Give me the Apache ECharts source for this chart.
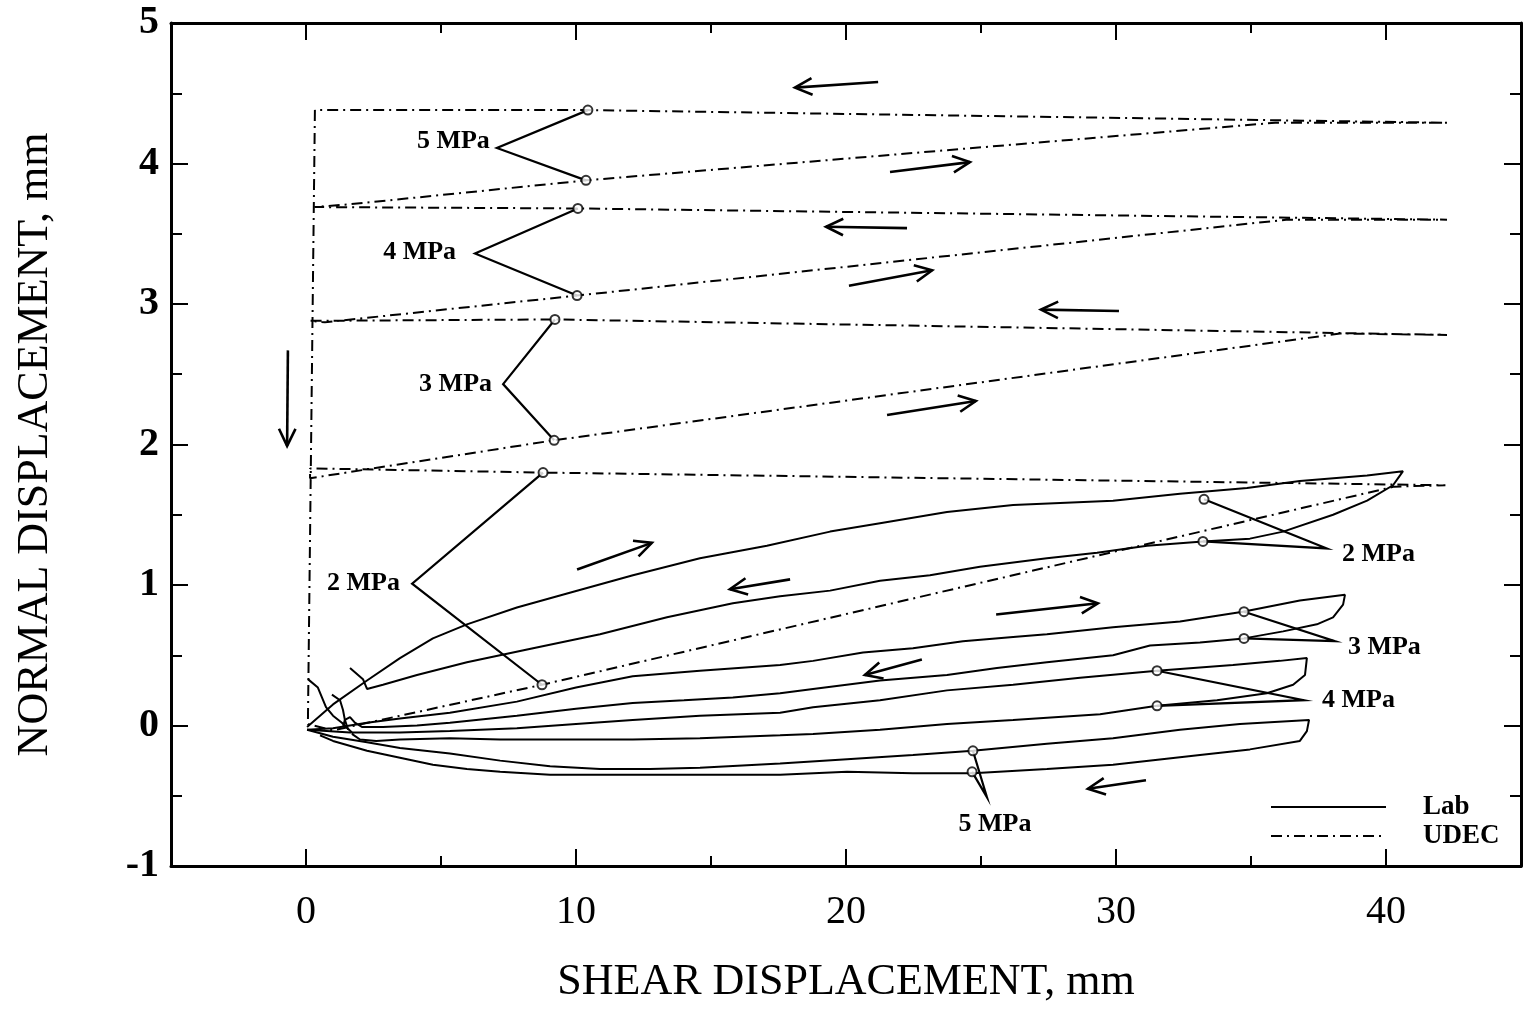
<!DOCTYPE html>
<html><head><meta charset="utf-8">
<script src="https://cdn.jsdelivr.net/npm/echarts@6/dist/echarts.min.js"></script>
<style>html,body{margin:0;padding:0;background:#fff}#c{width:1526px;height:1009px}</style>
</head><body><div id="c"></div>
<script>
// ---- tick values ----
const xTickLabels = [0, 10, 20, 30, 40];
const xMinorTicks = [5, 15, 25, 35];
const yTickLabels = [-1, 0, 1, 2, 3, 4, 5];

// ---- Lab curves (shear displacement mm, normal displacement mm) ----
const lab2MPa = [[0.04,-0.01],[1.0,0.15],[2.26,0.32],[3.48,0.48],[4.70,0.62],[5.96,0.72],[7.81,0.84],[9.67,0.94],[12.11,1.07],[14.59,1.19],[17.07,1.28],[19.41,1.38],[21.26,1.44],[23.74,1.52],[26.19,1.57],[29.89,1.60],[32.37,1.65],[34.85,1.69],[36.81,1.74],[39.30,1.78],[40.63,1.81],[40.52,1.78],[40.26,1.71],[39.30,1.60],[38.04,1.50],[36.19,1.38],[34.96,1.33],[33.22,1.31],[31.15,1.28],[29.30,1.23],[27.44,1.19],[24.96,1.13],[23.11,1.07],[21.26,1.03],[19.41,0.96],[17.56,0.92],[15.81,0.87],[13.37,0.77],[10.89,0.65],[8.41,0.55],[5.96,0.45],[4.11,0.36],[2.85,0.29],[2.26,0.26],[2.11,0.33],[1.63,0.41]];
const lab3MPa = [[0.04,-0.03],[1.0,-0.02],[2.26,0.02],[3.48,0.05],[5.33,0.09],[7.81,0.17],[10.0,0.27],[12.1,0.35],[14.59,0.39],[17.56,0.43],[18.78,0.46],[20.63,0.52],[22.48,0.55],[24.33,0.60],[26.19,0.63],[27.44,0.65],[29.89,0.70],[32.37,0.74],[34.70,0.81],[36.81,0.89],[38.48,0.93],[38.41,0.86],[38.04,0.77],[37.44,0.72],[36.19,0.67],[34.74,0.62],[33.11,0.59],[31.26,0.57],[29.89,0.50],[27.44,0.45],[25.59,0.41],[23.74,0.36],[21.26,0.32],[18.78,0.26],[17.56,0.23],[15.81,0.20],[14.0,0.18],[12.1,0.16],[10.0,0.12],[7.81,0.07],[5.33,0.02],[4.11,0.0],[2.85,-0.01],[2.07,-0.01],[1.81,0.02],[1.63,0.06],[1.44,0.04],[1.37,-0.01]];
const lab4MPa = [[0.04,-0.03],[1.63,-0.05],[3.48,-0.05],[5.33,-0.04],[7.81,-0.02],[10.0,0.01],[12.1,0.04],[14.59,0.07],[17.56,0.09],[18.78,0.13],[21.26,0.18],[23.74,0.25],[26.19,0.29],[28.67,0.34],[31.52,0.39],[34.33,0.43],[36.07,0.46],[37.07,0.48],[37.0,0.36],[36.56,0.29],[35.59,0.23],[33.74,0.18],[31.52,0.14],[29.41,0.08],[26.19,0.04],[23.74,0.01],[21.26,-0.03],[18.78,-0.06],[17.56,-0.07],[14.59,-0.09],[12.1,-0.10],[9.67,-0.10],[7.19,-0.10],[5.33,-0.09],[3.48,-0.10],[2.6,-0.11],[2.0,-0.10],[1.70,-0.06]];
const lab5MPa = [[0.04,-0.03],[1.0,-0.08],[2.26,-0.12],[3.48,-0.16],[5.33,-0.20],[7.19,-0.25],[9.04,-0.29],[10.89,-0.31],[12.74,-0.31],[14.59,-0.30],[17.56,-0.27],[20.04,-0.24],[22.48,-0.21],[24.70,-0.18],[27.44,-0.13],[29.89,-0.09],[32.37,-0.03],[34.59,0.01],[37.15,0.04],[37.07,-0.04],[36.81,-0.11],[34.96,-0.17],[33.11,-0.21],[29.89,-0.28],[27.44,-0.31],[24.70,-0.34],[22.48,-0.34],[20.04,-0.33],[17.56,-0.35],[14.59,-0.35],[12.11,-0.35],[9.04,-0.35],[7.19,-0.33],[5.96,-0.31],[4.70,-0.28],[3.48,-0.23],[2.26,-0.18],[1.0,-0.11],[0.52,-0.07]];
const labSeating1 = [[0.07,0.33],[0.44,0.27],[0.59,0.20],[0.74,0.13],[1.0,0.07],[1.33,0.02],[1.70,-0.05]];
const labSeating2 = [[0.96,0.22],[1.26,0.18],[1.37,0.11],[1.44,0.04],[1.56,-0.03]];

// ---- UDEC path ----
const udecPath = [[0.33,4.38],[0.07,0.01],[1.0,-0.035],[8.74,0.29],[40.3,1.70],[42.2,1.71],[8.78,1.80],[0.15,1.83],[0.15,1.76],[9.19,2.03],[38.3,2.79],[42.26,2.78],[9.22,2.89],[0.15,2.88],[0.7,2.87],[10.04,3.06],[36.3,3.60],[42.26,3.60],[10.07,3.68],[0.33,3.69],[1.63,3.71],[10.37,3.88],[35.9,4.29],[42.26,4.29],[10.44,4.38],[0.33,4.38]];

// ---- marked points ----
const udecMarks = [[8.78,1.80],[8.74,0.29],[9.22,2.89],[9.19,2.03],[10.07,3.68],[10.04,3.06],[10.44,4.38],[10.37,3.88]];
const labMarks = [[33.26,1.61],[33.22,1.31],[34.74,0.81],[34.74,0.62],[31.52,0.39],[31.52,0.14],[24.70,-0.18],[24.67,-0.33]];

// ---- leader lines: point A, vertex, point B ----
const leaders = [
  [10.44,4.38, 7.07,4.11, 10.37,3.88],
  [10.07,3.68, 6.26,3.36, 10.04,3.06],
  [9.22,2.89, 7.30,2.43, 9.19,2.03],
  [8.78,1.80, 3.93,1.01, 8.74,0.29],
  [33.26,1.61, 37.81,1.26, 33.22,1.31],
  [34.74,0.81, 38.11,0.60, 34.74,0.62],
  [31.52,0.39, 36.96,0.18, 31.52,0.14],
  [24.70,-0.18, 25.22,-0.51, 24.67,-0.33]
];
const annoPos = [[6.81,4.16],[5.56,3.37],[6.89,2.43],[3.48,1.01],[38.37,1.22],[38.59,0.56],[37.63,0.18],[25.52,-0.70]];
const annoText = ['5 MPa','4 MPa','3 MPa','2 MPa','2 MPa','3 MPa','4 MPa','5 MPa'];
const annoAlign = ['right','right','right','right','left','left','left','center'];

// ---- direction arrows: from (x1,y1) to (x2,y2) ----
const arrows = [
  [21.19,4.58, 18.11,4.54],
  [21.63,3.94, 24.59,4.01],
  [22.26,3.54, 19.26,3.55],
  [20.11,3.13, 23.19,3.24],
  [30.11,2.95, 27.22,2.96],
  [21.52,2.21, 24.81,2.31],
  [-0.67,2.67, -0.70,1.99],
  [10.04,1.11, 12.81,1.30],
  [17.93,1.04, 15.70,0.97],
  [25.56,0.79, 29.33,0.87],
  [22.81,0.47, 20.70,0.36],
  [31.11,-0.39, 28.96,-0.45]
];

const FONT = '"Liberation Serif","Times New Roman",serif';
const BLACK = '#000';

function labSeries(d) {
  return {name:'Lab', type:'line', data:d, symbol:'none', showSymbol:false,
    lineStyle:{color:BLACK, width:2}, itemStyle:{color:BLACK}, z:3, silent:true};
}

const chart = echarts.init(document.getElementById('c'));
const baseX = {type:'value', min:-5, max:45, splitLine:{show:false}, gridIndex:0};
const baseY = {type:'value', min:-1, max:5, interval:1, splitLine:{show:false}, gridIndex:0};

chart.setOption({
  animation:false,
  backgroundColor:'#fff',
  grid:{left:171, right:5, top:23, bottom:140, containLabel:false},
  legend:{
    data:['Lab','UDEC'], orient:'vertical', left:1265, top:788,
    itemWidth:115, itemHeight:14, itemGap:1,
    itemStyle:{opacity:0},
    textStyle:{fontFamily:FONT, fontSize:27, fontWeight:'bold', color:BLACK, lineHeight:28, padding:[0,0,0,32]},
    selectedMode:false
  },
  xAxis:[
    Object.assign({}, baseX, {position:'bottom',
      axisLine:{show:true, onZero:false, lineStyle:{color:BLACK, width:3}},
      axisTick:{show:true, inside:true, length:17, customValues:xTickLabels, lineStyle:{color:BLACK, width:2}},
      axisLabel:{customValues:xTickLabels, margin:26, fontSize:40, fontFamily:FONT, color:BLACK},
      name:'SHEAR DISPLACEMENT, mm', nameLocation:'middle', nameGap:94,
      nameTextStyle:{fontFamily:FONT, fontSize:44, color:BLACK}}),
    Object.assign({}, baseX, {position:'bottom',
      axisLine:{show:false, onZero:false},
      axisTick:{show:true, inside:true, length:10, customValues:xMinorTicks, lineStyle:{color:BLACK, width:2}},
      axisLabel:{show:false}}),
    Object.assign({}, baseX, {position:'top',
      axisLine:{show:true, onZero:false, lineStyle:{color:BLACK, width:3}},
      axisTick:{show:true, inside:true, length:17, customValues:xTickLabels, lineStyle:{color:BLACK, width:2}},
      axisLabel:{show:false}}),
    Object.assign({}, baseX, {position:'top',
      axisLine:{show:false, onZero:false},
      axisTick:{show:true, inside:true, length:10, customValues:xMinorTicks, lineStyle:{color:BLACK, width:2}},
      axisLabel:{show:false}})
  ],
  yAxis:[
    Object.assign({}, baseY, {position:'left',
      axisLine:{show:true, onZero:false, lineStyle:{color:BLACK, width:3}},
      axisTick:{show:true, inside:true, length:17, lineStyle:{color:BLACK, width:2}},
      minorTick:{show:true, splitNumber:2, length:11, lineStyle:{color:BLACK, width:2}},
      axisLabel:{margin:12, fontSize:40, fontWeight:'bold', fontFamily:FONT, color:BLACK},
      name:'NORMAL DISPLACEMENT, mm', nameLocation:'middle', nameGap:114, nameRotate:90,
      nameTextStyle:{fontFamily:FONT, fontSize:44, color:BLACK}}),
    Object.assign({}, baseY, {position:'right',
      axisLine:{show:true, onZero:false, lineStyle:{color:BLACK, width:3}},
      axisTick:{show:true, inside:true, length:17, lineStyle:{color:BLACK, width:2}},
      minorTick:{show:true, splitNumber:2, length:11, lineStyle:{color:BLACK, width:2}},
      axisLabel:{show:false}})
  ],
  series:[
    labSeries(lab2MPa), labSeries(lab3MPa), labSeries(lab4MPa), labSeries(lab5MPa),
    labSeries(labSeating1), labSeries(labSeating2),
    {name:'UDEC', type:'line', data:udecPath, symbol:'none', showSymbol:false,
      lineStyle:{color:BLACK, width:2, type:[11,5,2,5]}, itemStyle:{color:BLACK}, z:2, silent:true},
    {type:'custom', coordinateSystem:'cartesian2d', data:leaders, encode:{x:[0,2,4], y:[1,3,5]}, silent:true, z:4,
      renderItem:function(params, api){
        const a = api.coord([api.value(0), api.value(1)]);
        const v = api.coord([api.value(2), api.value(3)]);
        const b = api.coord([api.value(4), api.value(5)]);
        return {type:'polyline', shape:{points:[a,v,b]}, style:{stroke:BLACK, lineWidth:2.2, fill:null}};
      }},
    {type:'custom', coordinateSystem:'cartesian2d', data:arrows, encode:{x:[0,2], y:[1,3]}, silent:true, z:4,
      renderItem:function(params, api){
        const p1 = api.coord([api.value(0), api.value(1)]);
        const p2 = api.coord([api.value(2), api.value(3)]);
        const ang = Math.atan2(p2[1]-p1[1], p2[0]-p1[0]);
        const L = 19, th = 0.45;
        const h1 = [p2[0]-L*Math.cos(ang-th), p2[1]-L*Math.sin(ang-th)];
        const h2 = [p2[0]-L*Math.cos(ang+th), p2[1]-L*Math.sin(ang+th)];
        return {type:'group', children:[
          {type:'line', shape:{x1:p1[0], y1:p1[1], x2:p2[0], y2:p2[1]}, style:{stroke:BLACK, lineWidth:2.6}},
          {type:'polyline', shape:{points:[h1,p2,h2]}, style:{stroke:BLACK, lineWidth:2.6, fill:null}}
        ]};
      }},
    {type:'scatter', data:udecMarks, symbol:'emptyCircle', symbolSize:9, itemStyle:{color:BLACK, borderColor:BLACK, borderWidth:2}, z:5, silent:true},
    {type:'scatter', data:labMarks, symbol:'emptyCircle', symbolSize:9, itemStyle:{color:BLACK, borderColor:BLACK, borderWidth:2}, z:5, silent:true},
    {type:'custom', coordinateSystem:'cartesian2d', data:annoPos, encode:{x:0, y:1}, silent:true, z:6,
      renderItem:function(params, api){
        const p = api.coord([api.value(0), api.value(1)]);
        const i = params.dataIndex;
        return {type:'text', x:p[0], y:p[1], style:{text:annoText[i], align:annoAlign[i], verticalAlign:'middle',
          fontFamily:FONT, fontSize:26, fontWeight:'bold', fill:BLACK}};
      }}
  ]
});
</script>
</body></html>
